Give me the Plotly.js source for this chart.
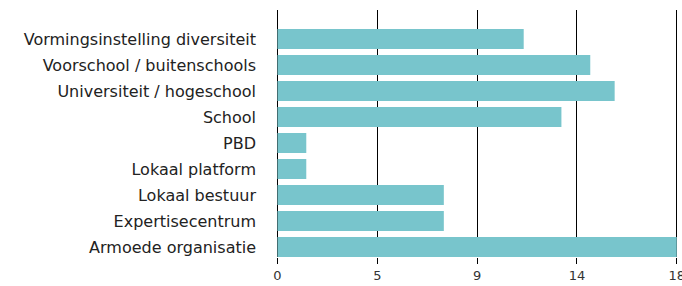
<!DOCTYPE html>
<html>
<head>
<meta charset="utf-8">
<script src="https://cdn.plot.ly/plotly-3.0.1.min.js"></script>
<style>html,body{margin:0;padding:0;background:#fff;}#chart{width:682px;height:286px;}</style>
</head>
<body>
<div id="chart"></div>
<script>
const categories = [
  "Vormingsinstelling diversiteit",
  "Voorschool / buitenschools",
  "Universiteit / hogeschool",
  "School",
  "PBD",
  "Lokaal platform",
  "Lokaal bestuur",
  "Expertisecentrum",
  "Armoede organisatie"
];
const values = [11.1, 14.1, 15.2, 12.8, 1.3, 1.3, 7.5, 7.5, 18];
const tickValues = [0, 4.5, 9, 13.5, 18];
const tickLabels = ["0", "5", "9", "14", "18"];

const trace = {
  type: "bar",
  orientation: "h",
  x: values,
  y: categories,
  marker: {color: "#78C5CC"},
  hoverinfo: "x+y"
};

const layout = {
  width: 682,
  height: 286,
  margin: {l: 275, r: 3, t: 10, b: 29},
  paper_bgcolor: "#fff",
  plot_bgcolor: "#fff",
  bargap: 0.23,
  showlegend: false,
  font: {family: "DejaVu Sans, sans-serif", color: "#222"},
  xaxis: {
    range: [-0.11, 18.1],
    tickmode: "array",
    tickvals: tickValues,
    ticktext: tickLabels,
    showgrid: true,
    gridcolor: "#000",
    gridwidth: 1,
    zeroline: false,
    layer: "above traces",
    ticks: "outside",
    ticklen: 6,
    tickcolor: "#000",
    tickwidth: 1,
    ticklabeloverflow: "allow",
    tickfont: {size: 13, color: "#333"},
    fixedrange: true
  },
  yaxis: {
    type: "category",
    range: [8.385, -1.115],
    showgrid: false,
    zeroline: false,
    ticks: "",
    ticklabelstandoff: 18,
    tickfont: {size: 16, color: "#222"},
    fixedrange: true
  }
};

Plotly.newPlot("chart", [trace], layout, {displayModeBar: false, staticPlot: true});
</script>
</body>
</html>
